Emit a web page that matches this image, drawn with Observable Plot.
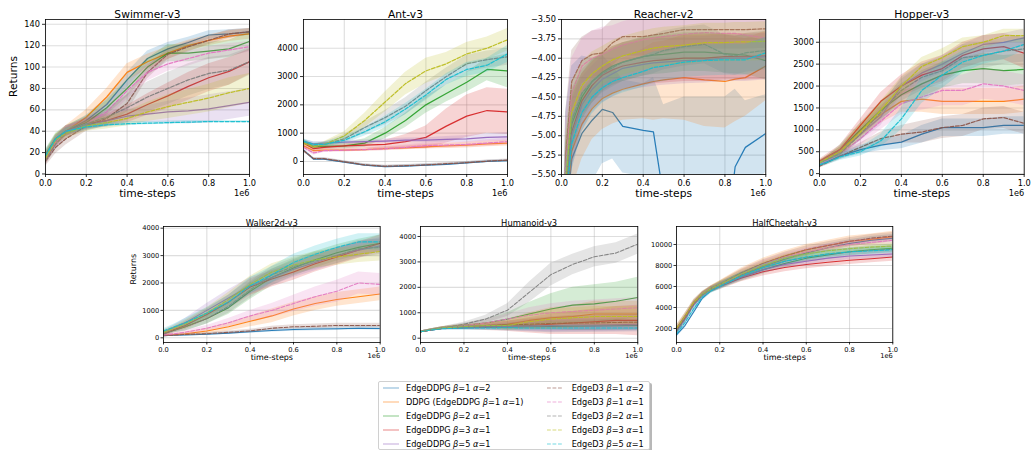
<!DOCTYPE html>
<html><head><meta charset="utf-8">
<script src="https://cdn.jsdelivr.net/npm/d3@7"></script>
<script src="https://cdn.jsdelivr.net/npm/@observablehq/plot@0.6"></script>
<style>
body{margin:0;background:#fff;font-family:"DejaVu Sans",sans-serif;}
#fig{position:relative;width:1031px;height:450px;overflow:hidden;background:#fff;}
.panel{position:absolute;}
.panel svg{max-width:none;display:block;}
#legend{position:absolute;left:378px;top:381px;width:270px;height:67px;border:1px solid #d0d0d0;border-radius:2px;background:#fff;box-shadow:2px 2px 0 rgba(0,0,0,0.28);font-size:8.2px;color:#000;}
.lg{position:absolute;white-space:nowrap;line-height:10px;}
.lg i{font-style:italic;}
</style></head><body><div id="fig"></div>
<script>
// ---------- series ----------
const seriesLabels = ["EdgeDDPG β=1 α=2","DDPG (EdgeDDPG β=1 α=1)","EdgeDDPG β=2 α=1","EdgeDDPG β=3 α=1","EdgeDDPG β=5 α=1",
  "EdgeD3 β=1 α=2","EdgeD3 β=1 α=1","EdgeD3 β=2 α=1","EdgeD3 β=3 α=1","EdgeD3 β=5 α=1"];
const seriesColors = ["#1f77b4","#ff7f0e","#2ca02c","#d62728","#9467bd","#8c564b","#e377c2","#7f7f7f","#bcbd22","#17becf"];
const seriesDashed = [false,false,false,false,false,true,true,true,true,true];

const xTickValues = [0,200000,400000,600000,800000,1000000];
const stepsMain = [0,50000,100000,200000,300000,400000,500000,600000,700000,800000,900000,1000000];
const stepsReacher = [0,20000,50000,100000,150000,200000,250000,300000,400000,450000,500000,600000,700000,800000,850000,900000,1000000];
const stepsCheetah = [0,40000,80000,120000,160000,200000,300000,400000,500000,600000,700000,800000,900000,1000000];

// ---------- Swimmer-v3 ----------
const swimmerMean = [
  [18,33,40,50,65,88,108,117,123,130,131,133],
  [17,33,40,53,72,95,105,113,120,125,129,131],
  [18,33,40,48,62,80,100,113,113,115,117,124],
  [13,30,40,47,50,56,65,73,82,90,96,105],
  [15,30,40,46,50,54,56,58,59,61,64,67],
  [12,25,33,45,52,66,95,112,119,125,131,133],
  [14,30,38,47,58,78,95,103,108,113,116,119],
  [13,28,38,47,53,62,72,80,88,94,97,105],
  [15,32,38,45,48,52,58,63,67,71,76,80],
  [17,33,40,44,46,47,47.5,48,48.5,49,49,49]];
const swimmerStd = [
  [4,4,4,5,6,7,7,6,5,4,4,3],
  [4,4,5,7,8,8,7,6,5,5,5,5],
  [5,5,5,6,7,8,8,8,8,8,8,9],
  [5,5,5,5,6,8,10,12,13,13,13,12],
  [5,5,5,4,5,6,8,10,12,13,13,13],
  [5,6,6,5,7,8,6,5,5,4,4,3],
  [5,5,5,6,7,8,8,7,7,6,6,5],
  [5,5,5,6,8,12,14,15,15,15,14,13],
  [5,5,5,5,6,7,9,11,12,13,14,14],
  [3,3,3,3,2,2,1.5,1.5,1.5,1,1,1]];
const swimmerYTicks = [0,20,40,60,80,100,120,140];

// ---------- Ant-v3 ----------
const antMean = [
  [400,80,80,-20,-130,-180,-160,-130,-100,-50,0,30],
  [550,380,400,400,420,450,480,520,550,580,620,650],
  [700,520,530,550,650,1000,1450,2000,2400,2800,3250,3200],
  [650,450,500,550,580,600,700,850,1250,1600,1800,1750],
  [700,620,650,680,700,720,750,750,780,800,850,870],
  [380,100,100,-10,-120,-170,-150,-120,-80,-40,10,50],
  [500,300,380,400,420,450,500,560,580,600,650,700],
  [700,550,600,800,1200,1550,1950,2500,3000,3450,3600,3700],
  [650,520,600,900,1450,2100,2750,3200,3450,3800,4000,4300],
  [720,600,600,750,1050,1400,1850,2350,2900,3250,3400,3800]];
const antStd = [
  [50,40,40,40,40,40,40,40,40,40,40,40],
  [80,80,60,60,60,60,70,80,90,100,100,100],
  [80,80,80,100,150,200,250,300,300,350,400,600],
  [80,80,80,80,100,150,250,400,600,750,800,800],
  [80,80,60,60,60,70,80,90,100,120,130,150],
  [50,40,40,40,40,40,40,40,40,40,40,40],
  [80,80,60,60,60,70,80,90,100,100,120,120],
  [80,80,80,150,200,250,300,300,300,300,300,300],
  [80,80,100,150,250,350,400,450,400,400,400,400],
  [80,80,80,120,150,200,200,200,200,250,250,300]];
const antYTicks = [0,1000,2000,3000,4000];

// ---------- Reacher-v2 ----------
const reacherMean = [
  [-9,-6.2,-5.3,-4.97,-4.8,-4.66,-4.7,-4.88,-4.93,-4.95,-5.8,-6.5,-7.0,-6.5,-5.4,-5.15,-4.97],
  [-9,-6.0,-5.2,-4.85,-4.65,-4.52,-4.45,-4.4,-4.33,-4.3,-4.28,-4.25,-4.28,-4.3,-4.27,-4.25,-4.1],
  [-9,-5.7,-4.85,-4.5,-4.3,-4.18,-4.1,-4.05,-3.98,-3.96,-3.95,-3.92,-3.92,-3.94,-3.95,-3.96,-4.03],
  [-9,-5.8,-4.95,-4.55,-4.35,-4.22,-4.15,-4.1,-4.05,-4.03,-4.02,-4.0,-4.0,-3.98,-3.98,-3.98,-3.97],
  [-9,-5.8,-5.0,-4.6,-4.4,-4.27,-4.2,-4.13,-4.08,-4.06,-4.05,-4.03,-4.02,-4.0,-4.0,-4.0,-3.98],
  [-9,-5.3,-4.3,-4.03,-3.95,-3.93,-3.8,-3.72,-3.72,-3.7,-3.68,-3.63,-3.63,-3.63,-3.63,-3.63,-3.62],
  [-9,-5.4,-4.45,-4.1,-4.0,-3.95,-3.88,-3.83,-3.76,-3.74,-3.72,-3.69,-3.67,-3.68,-3.68,-3.7,-3.74],
  [-9,-5.7,-4.8,-4.45,-4.3,-4.2,-4.12,-4.05,-3.98,-3.95,-3.9,-3.85,-3.82,-3.95,-3.97,-3.93,-3.9],
  [-9,-5.6,-4.7,-4.35,-4.2,-4.1,-4.02,-3.97,-3.9,-3.87,-3.85,-3.83,-3.8,-3.8,-3.79,-3.79,-3.78],
  [-9,-5.9,-5.1,-4.7,-4.5,-4.38,-4.3,-4.25,-4.17,-4.12,-4.1,-4.05,-4.03,-4.02,-4.02,-4.02,-3.93]];
const reacherStd = [
  [2,1.5,1.2,1.0,0.8,0.7,0.6,0.6,0.6,0.7,1.2,2.0,2.5,2.0,1.0,0.6,0.5],
  [1,0.7,0.5,0.45,0.4,0.4,0.4,0.4,0.45,0.5,0.5,0.55,0.6,0.6,0.55,0.5,0.45],
  [1,0.6,0.4,0.3,0.28,0.25,0.25,0.25,0.25,0.25,0.25,0.25,0.25,0.25,0.25,0.25,0.25],
  [1,0.6,0.45,0.35,0.3,0.3,0.3,0.3,0.3,0.3,0.3,0.3,0.3,0.3,0.3,0.3,0.3],
  [1,0.6,0.45,0.35,0.3,0.3,0.3,0.3,0.3,0.3,0.3,0.3,0.3,0.3,0.3,0.3,0.3],
  [1,0.6,0.4,0.3,0.3,0.3,0.3,0.25,0.25,0.25,0.25,0.25,0.25,0.25,0.25,0.25,0.25],
  [1,0.6,0.45,0.35,0.35,0.35,0.3,0.3,0.3,0.3,0.3,0.3,0.3,0.3,0.3,0.3,0.3],
  [1,0.6,0.4,0.3,0.28,0.25,0.25,0.25,0.25,0.25,0.25,0.25,0.25,0.25,0.25,0.25,0.25],
  [1,0.6,0.4,0.3,0.28,0.25,0.25,0.25,0.25,0.25,0.25,0.25,0.25,0.25,0.25,0.25,0.25],
  [1,0.5,0.35,0.25,0.22,0.2,0.2,0.2,0.2,0.2,0.2,0.2,0.2,0.2,0.2,0.2,0.2]];
const reacherYTicks = [-5.5,-5.25,-5,-4.75,-4.5,-4.25,-4,-3.75,-3.5];

// ---------- Hopper-v3 ----------
const hopperMean = [
  [200,300,400,550,650,720,900,1050,1050,1050,1100,1100],
  [250,380,500,1000,1350,1650,1700,1650,1650,1650,1650,1700],
  [230,380,550,1000,1450,1800,2050,2250,2350,2400,2350,2380],
  [280,420,550,1100,1650,2000,2250,2400,2700,2850,2900,2750],
  [250,380,500,900,1300,2000,2300,2500,2750,2950,3000,3100],
  [170,280,400,600,800,900,950,1050,1100,1250,1280,1150],
  [220,330,450,800,1200,1600,1750,1900,1900,2050,2000,1900],
  [250,350,450,900,1400,1900,2200,2350,2650,2700,2800,2850],
  [250,380,500,950,1450,2000,2450,2650,2900,3000,3150,3150],
  [200,280,380,500,750,1250,1900,2250,2550,2700,2800,2950]];
const hopperStd = [
  [50,60,80,100,120,150,200,200,200,200,200,200],
  [50,70,100,150,200,250,300,300,300,300,300,300],
  [50,70,100,150,200,250,300,300,300,350,350,350],
  [50,70,100,150,200,250,300,300,300,300,300,350],
  [50,70,100,150,200,200,200,200,200,200,200,200],
  [50,60,80,100,150,200,250,250,250,250,250,250],
  [50,70,100,150,200,250,300,350,350,350,350,350],
  [50,70,100,150,200,250,300,300,300,300,300,300],
  [50,70,100,150,200,200,200,200,200,150,150,150],
  [50,60,80,100,150,250,300,300,250,200,200,150]];
const hopperYTicks = [0,500,1000,1500,2000,2500,3000];

// ---------- Walker2d-v3 ----------
const walkerMean = [
  [80,90,100,130,170,220,270,300,320,330,350,340],
  [100,120,150,250,400,600,800,1050,1250,1400,1500,1600],
  [150,280,400,700,1100,1700,2200,2550,2850,3100,3300,3450],
  [150,300,450,850,1300,1850,2150,2400,2700,2950,3200,3450],
  [200,380,550,1000,1450,1900,2200,2500,2750,3000,3200,3350],
  [80,100,120,150,200,250,350,400,420,450,450,450],
  [100,150,200,350,550,800,1000,1250,1500,1700,2000,1950],
  [150,280,400,700,1150,1750,2300,2600,2800,3000,3250,3300],
  [200,350,500,900,1400,1950,2400,2650,2850,2950,3050,3150],
  [250,400,550,900,1300,1900,2300,2750,3050,3300,3500,3500]];
const walkerStd = [
  [30,30,30,40,40,50,60,60,60,60,60,60],
  [50,50,60,100,150,200,250,250,250,250,250,250],
  [80,100,150,200,250,300,300,300,300,300,300,300],
  [80,100,150,200,250,300,300,300,300,300,300,300],
  [80,100,150,250,300,300,300,300,300,300,300,300],
  [30,30,30,40,50,60,70,80,80,80,80,80],
  [50,60,80,100,150,200,250,300,350,400,400,400],
  [80,100,150,200,250,300,300,300,300,300,300,300],
  [80,100,150,200,250,300,300,300,300,300,300,350],
  [80,100,150,200,250,300,300,300,300,300,300,300]];
const walkerYTicks = [0,1000,2000,3000,4000];

// ---------- Humanoid-v3 ----------
const humanoidMean = [
  [250,320,380,400,420,430,450,460,470,480,490,500],
  [250,330,400,450,500,550,700,800,850,950,950,950],
  [250,330,400,500,600,750,950,1150,1300,1350,1450,1600],
  [250,320,380,420,450,470,500,550,600,650,700,700],
  [250,320,380,420,450,460,480,500,520,520,530,550],
  [250,330,400,450,500,520,550,580,600,600,620,630],
  [250,330,400,500,600,750,900,1000,1050,1100,1150,1200],
  [250,330,400,550,750,1100,1800,2500,2900,3200,3350,3700],
  [250,330,400,450,500,500,650,750,800,850,850,850],
  [250,320,370,400,400,410,400,400,400,400,400,400]];
const humanoidStd = [
  [30,40,50,80,100,150,200,250,250,250,250,250],
  [30,40,50,80,100,200,300,400,450,500,500,500],
  [30,40,50,80,150,250,450,600,700,750,750,800],
  [30,40,50,80,150,200,300,400,450,500,550,600],
  [30,40,50,80,100,150,200,250,250,250,250,250],
  [30,40,50,80,100,150,200,250,300,300,300,300],
  [30,40,50,80,150,200,300,350,400,400,400,400],
  [30,40,50,80,150,250,400,450,400,400,400,400],
  [30,40,50,80,100,200,300,400,400,400,400,400],
  [30,40,50,80,100,100,100,100,100,100,100,100]];
const humanoidYTicks = [0,1000,2000,3000,4000];

// ---------- HalfCheetah-v3 ----------
const cheetahMean = [
  [1400,2300,3600,4900,5600,6000,7100,7900,8600,9200,9700,10100,10400,10600],
  [2000,3200,4400,5200,5800,6200,7300,8200,8900,9500,9900,10300,10500,10750],
  [1800,3000,4300,5200,5700,6100,6900,7600,8200,8700,9000,9300,9500,9650],
  [1800,3000,4400,5200,5700,6000,6800,7400,7800,8100,8300,8500,8650,8800],
  [2000,3200,4500,5300,5800,6100,6900,7600,8100,8400,8700,8900,9000,9100],
  [1700,2900,4300,5200,5800,6200,7300,8200,8900,9500,9900,10300,10600,10800],
  [1600,2800,4200,5100,5700,6100,7200,8100,8800,9300,9700,10000,10200,10400],
  [1700,2900,4300,5200,5700,6100,7000,7800,8400,8800,9100,9300,9450,9550],
  [2000,3200,4500,5300,5800,6200,7200,8000,8700,9100,9400,9600,9750,9850],
  [1500,2600,3900,5000,5600,6000,7000,7800,8400,8800,9100,9300,9400,9500]];
const cheetahStd = [
  [250,250,250,250,250,250,300,350,350,350,350,350,350,350],
  [300,300,300,300,300,350,450,500,500,500,500,500,500,500],
  [250,250,250,250,300,350,400,400,400,400,400,400,400,400],
  [250,250,250,250,250,300,350,400,400,400,400,400,400,400],
  [250,250,250,250,250,300,350,350,350,350,350,350,350,350],
  [250,250,250,250,250,300,350,350,350,350,350,350,350,350],
  [250,250,250,250,250,300,350,350,350,350,350,350,350,350],
  [250,250,250,250,250,300,350,350,350,350,350,350,350,350],
  [250,250,250,250,250,300,350,350,350,350,350,350,350,350],
  [250,250,250,250,250,300,350,350,350,350,350,350,350,350]];
const cheetahYTicks = [2000,4000,6000,8000,10000];

const panelTitles = ["Swimmer-v3","Ant-v3","Reacher-v2","Hopper-v3","Walker2d-v3","Humanoid-v3","HalfCheetah-v3"];

// ---------- layout ----------
const intFmt = d => String(d);
const panels = [
  {title: panelTitles[0], steps: stepsMain, mean: swimmerMean, std: swimmerStd, yTicks: swimmerYTicks, yDomain: [-0.5,144.5], fmt: intFmt, frame: [45,19,249,174], big: true, ylabel: true},
  {title: panelTitles[1], steps: stepsMain, mean: antMean, std: antStd, yTicks: antYTicks, yDomain: [-460,5015], fmt: intFmt, frame: [303.3,19,507.3,174], big: true},
  {title: panelTitles[2], steps: stepsReacher, mean: reacherMean, std: reacherStd, yTicks: reacherYTicks, yDomain: [-5.5,-3.5], fmt: d3.format(".2f"), frame: [560.7,19,765,174], big: true},
  {title: panelTitles[3], steps: stepsMain, mean: hopperMean, std: hopperStd, yTicks: hopperYTicks, yDomain: [-20,3520], fmt: intFmt, frame: [819.3,19,1024,174], big: true},
  {title: panelTitles[4], steps: stepsMain, mean: walkerMean, std: walkerStd, yTicks: walkerYTicks, yDomain: [-171,4062], fmt: intFmt, frame: [163.3,226,380,342], big: false, ylabel: true},
  {title: panelTitles[5], steps: stepsMain, mean: humanoidMean, std: humanoidStd, yTicks: humanoidYTicks, yDomain: [-169,4393], fmt: intFmt, frame: [420,226,637.3,342], big: false},
  {title: panelTitles[6], steps: stepsCheetah, mean: cheetahMean, std: cheetahStd, yTicks: cheetahYTicks, yDomain: [667,11714], fmt: intFmt, frame: [676,226,892.3,342], big: false}
];

const fig = document.getElementById("fig");

function drawPanel(p) {
  const mL = 50, mR = 14, mT = 22, mB = p.big ? 32 : 24;
  const [fx0, fy0, fx1, fy1] = p.frame;
  const W = fx1 - fx0 + mL + mR, H = fy1 - fy0 + mT + mB;
  const tickFs = p.big ? 8.2 : 6.7;
  const labFs = p.big ? 10.7 : 8.0;
  const titleFs = p.big ? 10.7 : 8.4;
  const marks = [
    Plot.gridX({ticks: xTickValues, stroke: "#b0b0b0", strokeOpacity: 0.42, strokeWidth: 1.1}),
    Plot.gridY({ticks: p.yTicks, stroke: "#b0b0b0", strokeOpacity: 0.42, strokeWidth: 1.1})
  ];
  p.mean.forEach((row, i) => {
    const data = row.map((v, j) => ({x: p.steps[j], y: v, lo: v - p.std[i][j], hi: v + p.std[i][j]}));
    marks.push(Plot.areaY(data, {x: "x", y1: "lo", y2: "hi", fill: seriesColors[i], fillOpacity: 0.2, clip: true}));
    marks.push(Plot.line(data, {x: "x", y: "y", stroke: seriesColors[i], strokeWidth: p.big ? 1.25 : 1.05, strokeOpacity: 0.95,
      strokeDasharray: seriesDashed[i] ? "3.8,1.7" : null, clip: true}));
  });
  marks.push(
    Plot.frame({stroke: "#000", strokeWidth: 0.8}),
    Plot.axisX({ticks: xTickValues, tickFormat: d => (d / 1e6).toFixed(1), tickSize: p.big ? 3 : 2.5, tickPadding: p.big ? 2.5 : 1.8, label: null, strokeWidth: 0.8}),
    Plot.axisY({ticks: p.yTicks, tickFormat: p.fmt, tickSize: p.big ? 3 : 2.5, tickPadding: p.big ? 2.5 : 1.8, label: null, strokeWidth: 0.8}),
    Plot.text([p.title], {frameAnchor: "top", dy: p.big ? -9 : -6.7, fontSize: titleFs, fill: "#000"}),
    Plot.text(["time-steps"], {frameAnchor: "bottom", dy: p.big ? 22.7 : 17.3, fontSize: labFs, fill: "#000"}),
    Plot.text(["1e6"], {frameAnchor: "bottom-right", textAnchor: "end", dy: p.big ? 21.5 : 16, fontSize: tickFs, fill: "#000"})
  );
  if (p.ylabel) marks.push(Plot.text(["Returns"], {frameAnchor: "left", rotate: -90, dx: p.big ? -32.3 : -29.6, fontSize: labFs, fill: "#000"}));
  const svg = Plot.plot({
    width: W, height: H, marginLeft: mL, marginRight: mR, marginTop: mT, marginBottom: mB,
    x: {domain: [0, 1000000]},
    y: {domain: p.yDomain},
    style: {fontSize: tickFs + "px", fontFamily: "'DejaVu Sans', sans-serif", background: "none", overflow: "visible", color: "#000", maxWidth: "none"},
    marks
  });
  const div = document.createElement("div");
  div.className = "panel";
  div.style.left = (fx0 - mL) + "px";
  div.style.top = (fy0 - mT) + "px";
  div.appendChild(svg);
  fig.appendChild(div);
}
panels.forEach(drawPanel);

// ---------- legend ----------
const legend = document.createElement("div");
legend.id = "legend";
seriesLabels.forEach((lab, i) => {
  const r = i % 5, c = Math.floor(i / 5);
  const cy = 6.3 + 14 * r;
  const hx = c === 0 ? 3.7 : 168;
  const tx = c === 0 ? 27 : 192.7;
  const h = document.createElementNS("http://www.w3.org/2000/svg", "svg");
  h.setAttribute("width", 16); h.setAttribute("height", 4);
  h.style.position = "absolute"; h.style.left = hx + "px"; h.style.top = (cy - 2) + "px";
  const ln = document.createElementNS("http://www.w3.org/2000/svg", "line");
  ln.setAttribute("x1", 0); ln.setAttribute("x2", 16); ln.setAttribute("y1", 2); ln.setAttribute("y2", 2);
  ln.setAttribute("stroke", seriesColors[i]); ln.setAttribute("stroke-opacity", 0.4); ln.setAttribute("stroke-width", 1.4);
  if (seriesDashed[i]) ln.setAttribute("stroke-dasharray", "3.8,1.7");
  h.appendChild(ln);
  legend.appendChild(h);
  const t = document.createElement("div");
  t.className = "lg";
  t.style.left = tx + "px"; t.style.top = (cy - 5) + "px";
  t.innerHTML = lab.replace(/([βα])/g, "<i>$1</i>");
  legend.appendChild(t);
});
fig.appendChild(legend);
</script>
</body></html>
